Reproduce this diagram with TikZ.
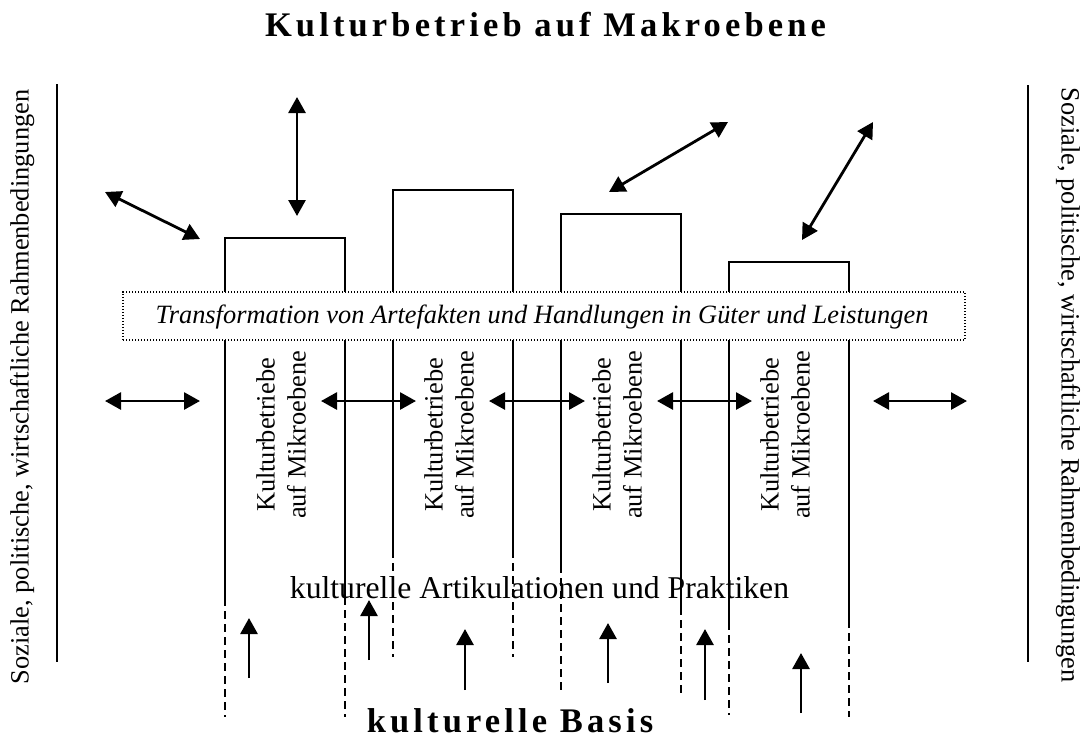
\documentclass[tikz,border=0pt]{standalone}
\usepackage{fontspec}
\setmainfont{Liberation Serif}
\newfontfamily\spaced{Liberation Serif}[LetterSpace=12]
\usetikzlibrary{arrows.meta}
\tikzset{
  frame/.style={line width=2pt},
  dashedside/.style={line width=2pt, dash pattern=on 8pt off 5pt},
  dbl/.style={line width=2.8pt, {Triangle[length=16pt,width=17pt]}-{Triangle[length=16pt,width=17pt]}},
  uparrow/.style={line width=2.8pt, -{Triangle[length=16pt,width=17pt]}},
  bandbox/.style={draw, line width=1.3pt, dash pattern=on 1.3pt off 1.7pt, fill=white, inner sep=0pt},
  basetext/.style={inner sep=0pt, font=\fontsize{26.4pt}{31pt}\selectfont},
  boxlabel/.style={inner sep=0pt, align=center, rotate=90, font=\fontsize{26.4pt}{31pt}\selectfont},
  bigtitle/.style={inner sep=0pt, anchor=base, font=\fontsize{34.5pt}{40pt}\selectfont\spaced\bfseries},
}
\begin{document}
\begin{tikzpicture}[x=1pt,y=-1pt]
\useasboundingbox (0,0) rectangle (1083,740);

% title and base
\node[bigtitle] (title) at (545.5,36.7) {Kulturbetrieb auf Makroebene};
\node[bigtitle] (basis) at (510,732.7) {kulturelle Basis};

% side frames
\coordinate (lt) at (57,84); \coordinate (lb) at (57,662);
\coordinate (rt) at (1028,85); \coordinate (rb) at (1028,662);
\draw[frame] (lt) -- (lb);
\draw[frame] (rt) -- (rb);
\node[basetext, anchor=base, rotate=90] (lefttext) at (28.7,387) {Soziale, politische, wirtschaftliche Rahmenbedingungen};
\node[basetext, anchor=base, rotate=-90] (righttext) at (1061.7,385) {Soziale, politische, wirtschaftliche Rahmenbedingungen};

% boxes: left x, top y, solid ends, dashed ends
\foreach \i/\L/\T/\sl/\sr/\dl/\dr in {1/225/238/598/597/717/717, 2/393/190/550/550/657/657, 3/561/214/565/607/690/695, 4/729/262/622/620/715/717}{
  \pgfmathsetmacro{\R}{\L+120}
  \coordinate (b\i tl) at (\L,\T);
  \coordinate (b\i tr) at (\R,\T);
  \coordinate (b\i sl) at (\L,\sl);
  \coordinate (b\i sr) at (\R,\sr);
  \coordinate (b\i dl) at (\L,\dl);
  \coordinate (b\i dr) at (\R,\dr);
  \draw[frame] (b\i sl) -- (b\i tl) -- (b\i tr) -- (b\i sr);
  \draw[dashedside] (b\i sl) -- (b\i dl);
  \draw[dashedside] (b\i sr) -- (b\i dr);
  \pgfmathsetmacro{\C}{\L+56}
  \node[boxlabel] (lab\i) at (\C,435) {Kulturbetriebe\\auf Mikroebene};
}

% transformation band
\node[bandbox, minimum width=842pt, minimum height=48pt] (band) at (544,316) {};
\node[basetext, anchor=base, font=\fontsize{26.4pt}{31pt}\selectfont\itshape] (bandtext) at (542,323.3) {Transformation von Artefakten und Handlungen in Güter und Leistungen};

% articulation text
\node[inner sep=0pt, anchor=base, font=\fontsize{31.7pt}{36pt}\selectfont] (artik) at (539.5,598.3) {kulturelle Artikulationen und Praktiken};

% top arrows
\coordinate (a1s) at (105,192); \coordinate (a1e) at (200,239);
\coordinate (a2s) at (297,97);  \coordinate (a2e) at (297,216);
\coordinate (a3s) at (609,192); \coordinate (a3e) at (728,122);
\coordinate (a4s) at (802,240); \coordinate (a4e) at (873,122);
\draw[dbl] (a1s) -- (a1e);
\draw[dbl] (a2s) -- (a2e);
\draw[dbl] (a3s) -- (a3e);
\draw[dbl] (a4s) -- (a4e);

% horizontal arrows
\foreach \n/\xa/\xb in {1/105/200, 2/321/416, 3/489/585, 4/657/752, 5/873/967}{
  \coordinate (h\n s) at (\xa,401);
  \coordinate (h\n e) at (\xb,401);
  \draw[dbl] (h\n s) -- (h\n e);
}

% upward arrows
\foreach \n/\xx/\yb/\yt in {1/249/678/618, 2/369/660/600, 3/465/690/629, 4/608/683/623, 5/705/700/629, 6/801/713/653}{
  \coordinate (u\n s) at (\xx,\yb);
  \coordinate (u\n e) at (\xx,\yt);
  \draw[uparrow] (u\n s) -- (u\n e);
}
\end{tikzpicture}
\end{document}
